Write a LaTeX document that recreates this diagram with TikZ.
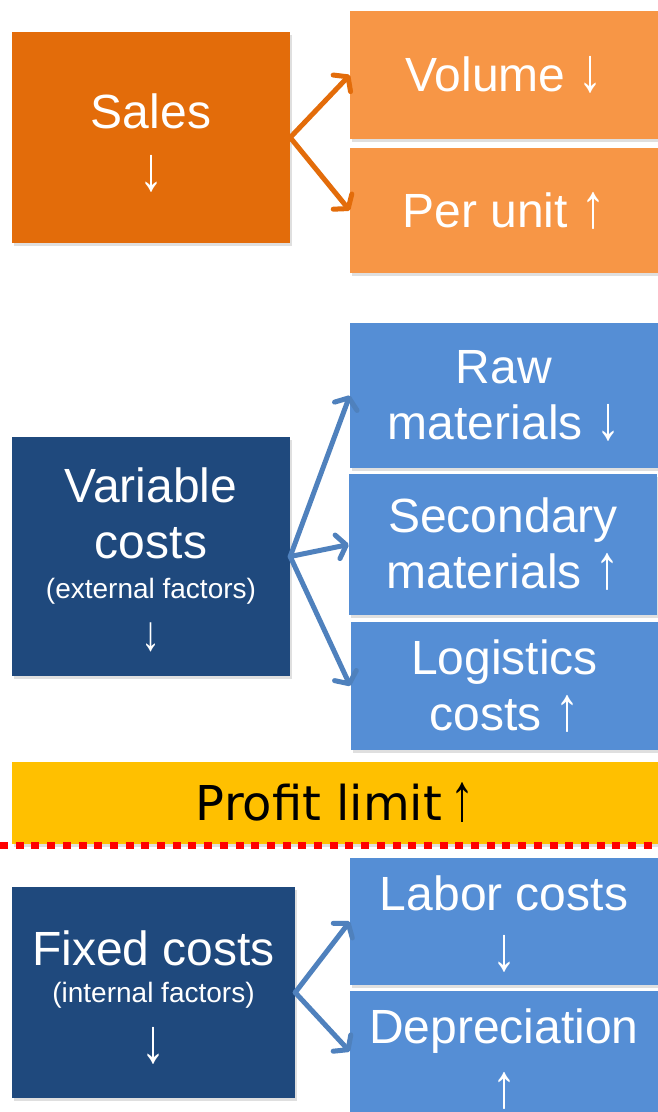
\documentclass[tikz,border=0pt]{standalone}
\usepackage{fontspec}
\setmainfont{Liberation Sans}
\newfontfamily\profitfont{DejaVu Sans}
\usetikzlibrary{positioning,arrows.meta,shadows}

\definecolor{salesdark}{HTML}{E36C0A}
\definecolor{saleslight}{HTML}{F79646}
\definecolor{costdark}{HTML}{1F497D}
\definecolor{costlight}{HTML}{558ED5}
\definecolor{costarrow}{HTML}{4F81BD}
\definecolor{profitgold}{HTML}{FFC000}

\newcommand{\dn}{\scalebox{1}[1.3]{↓}}
\newcommand{\upa}{\scalebox{1}[1.3]{↑}}
\newcommand{\toppad}[1]{\rule{0pt}{#1}}

\tikzset{
  box/.style={
    rectangle,
    inner sep=0pt,
    text=white,
    align=center,
    font=\fontsize{48}{56}\selectfont,
    drop shadow={shadow xshift=2pt, shadow yshift=-3pt, opacity=0.25}},
  leftbox/.style={box, minimum width=278pt},
  rightbox/.style={box, minimum width=308pt},
  link/.style={
    line width=5pt,
    line cap=round,
    -{Straight Barb[length=9pt, width=24pt, round]}}
}

\begin{document}
\begin{tikzpicture}[x=1pt, y=1pt]
  \useasboundingbox (0,0) rectangle (658,-1112);
  \fill[white] (0,0) rectangle (658,-1112);

  \node[
  leftbox,
  fill=salesdark,
  minimum height=211pt] (sales) at (151,-137.5) {\toppad{46pt}Sales\\[6pt]\dn};

  \node[
  rightbox,
  fill=saleslight,
  minimum height=128pt] (vol) at (504,-75) {Volume \dn};

  \node[
  rightbox,
  fill=saleslight,
  minimum height=125pt] (unit) at (504,-210.5) {Per unit \upa};

  \node[
  leftbox,
  fill=costdark,
  minimum height=239pt] (var) at (151,-556.5)
  {\toppad{42pt}Variable\\costs\\[-16pt]{\fontsize{28}{34}\selectfont (external factors)}\\[-4pt]{\fontsize{38}{46}\selectfont\dn}};

  \node[
  rightbox,
  fill=costlight,
  minimum height=145pt] (raw) at (504,-395.5) {Raw\\materials \dn};

  \node[
  rightbox,
  fill=costlight,
  minimum height=141pt] (sec) at (503,-544.5) {Secondary\\materials \upa};

  \node[
  rightbox,
  fill=costlight,
  minimum height=128pt] (log) at (504.5,-686) {Logistics\\costs \upa};

  \node[
  box,
  fill=profitgold,
  text=black,
  font=\profitfont\fontsize{48}{56}\selectfont,
  minimum width=646pt,
  minimum height=82pt] (profit) at (335,-803)
  {Profit limit{\rmfamily\,\scalebox{1}[1.4]{↑}}};

  \coordinate (cutl) at (0,-845);
  \coordinate (cutr) at (658,-845);

  \node[
  leftbox,
  fill=costdark,
  minimum width=283pt,
  minimum height=211pt] (fixed) at (153.5,-992.5)
  {\toppad{44pt}Fixed costs\\[-19pt]{\fontsize{28}{34}\selectfont (internal factors)}\\[4pt]\dn};

  \node[
  rightbox,
  fill=costlight,
  minimum height=127pt] (labor) at (504,-921.5) {\toppad{40pt}Labor costs\\[4pt]\dn};

  \node[
  rightbox,
  fill=costlight,
  minimum height=121pt] (dep) at (504,-1051.5) {\toppad{50pt}Depreciation\\[8pt]\upa};

  \draw[red, line width=7pt, dash pattern=on 8pt off 7.7pt] (cutl)--(cutr);

  \draw[link, salesdark] (sales.east)--(vol.west);
  \draw[link, salesdark] (sales.east)--(unit.west);
  \draw[link, costarrow] (var.east)--(raw.west);
  \draw[link, costarrow] (var.east)--(sec.west);
  \draw[link, costarrow] (var.east)--(log.west);
  \draw[link, costarrow] (fixed.east)--(labor.west);
  \draw[link, costarrow] (fixed.east)--(dep.west);
\end{tikzpicture}
\end{document}
